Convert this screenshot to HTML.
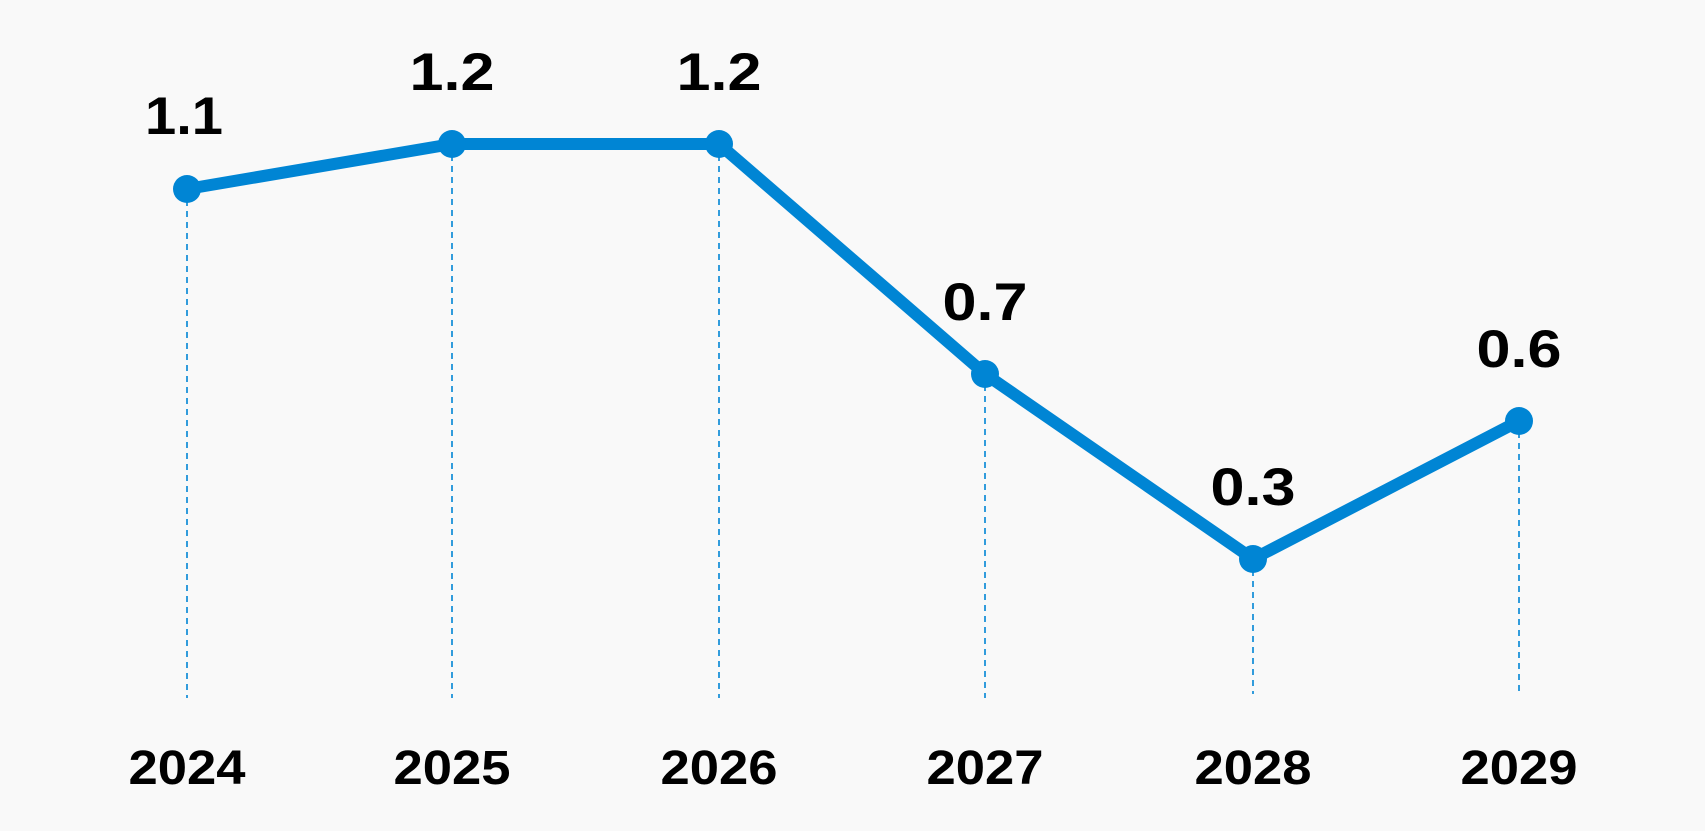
<!DOCTYPE html>
<html><head><style>html,body{margin:0;padding:0;background:#f9f9f9}</style></head>
<body>
<svg width="1705" height="831" viewBox="0 0 1705 831" xmlns="http://www.w3.org/2000/svg" style="display:block">
<rect width="1705" height="831" fill="#f9f9f9"/>
<g stroke="#0085d4" stroke-width="1.6" stroke-dasharray="6,5">
<line x1="187" y1="189" x2="187" y2="698"/>
<line x1="452" y1="144" x2="452" y2="698"/>
<line x1="719" y1="144" x2="719" y2="698"/>
<line x1="985" y1="374" x2="985" y2="698"/>
<line x1="1253" y1="559" x2="1253" y2="694"/>
<line x1="1519" y1="421" x2="1519" y2="694"/>
</g>
<polyline points="187,189 452,144 719,144 985,374 1253,559 1519,421" fill="none" stroke="#0085d4" stroke-width="12" stroke-linejoin="round"/>
<g fill="#0085d4">
<circle cx="187" cy="189" r="14"/><circle cx="452" cy="144" r="14"/><circle cx="719" cy="144" r="14"/>
<circle cx="985" cy="374" r="14"/><circle cx="1253" cy="559" r="14"/><circle cx="1519" cy="421" r="14"/>
</g>
<g font-family="Liberation Sans, sans-serif" font-weight="bold" font-size="53" text-anchor="middle" fill="#000" lengthAdjust="spacingAndGlyphs">
<text x="184" y="134" textLength="78" lengthAdjust="spacingAndGlyphs">1.1</text>
<text x="452" y="90" textLength="85" lengthAdjust="spacingAndGlyphs">1.2</text>
<text x="719" y="90" textLength="85" lengthAdjust="spacingAndGlyphs">1.2</text>
<text x="985" y="320" textLength="85" lengthAdjust="spacingAndGlyphs">0.7</text>
<text x="1253" y="505" textLength="85" lengthAdjust="spacingAndGlyphs">0.3</text>
<text x="1519" y="367" textLength="85" lengthAdjust="spacingAndGlyphs">0.6</text>
</g>
<g font-family="Liberation Sans, sans-serif" font-weight="bold" font-size="48" text-anchor="middle" fill="#000">
<text x="187" y="784" textLength="117" lengthAdjust="spacingAndGlyphs">2024</text>
<text x="452" y="784" textLength="117" lengthAdjust="spacingAndGlyphs">2025</text>
<text x="719" y="784" textLength="117" lengthAdjust="spacingAndGlyphs">2026</text>
<text x="985" y="784" textLength="117" lengthAdjust="spacingAndGlyphs">2027</text>
<text x="1253" y="784" textLength="117" lengthAdjust="spacingAndGlyphs">2028</text>
<text x="1519" y="784" textLength="117" lengthAdjust="spacingAndGlyphs">2029</text>
</g>
</svg>
</body></html>
